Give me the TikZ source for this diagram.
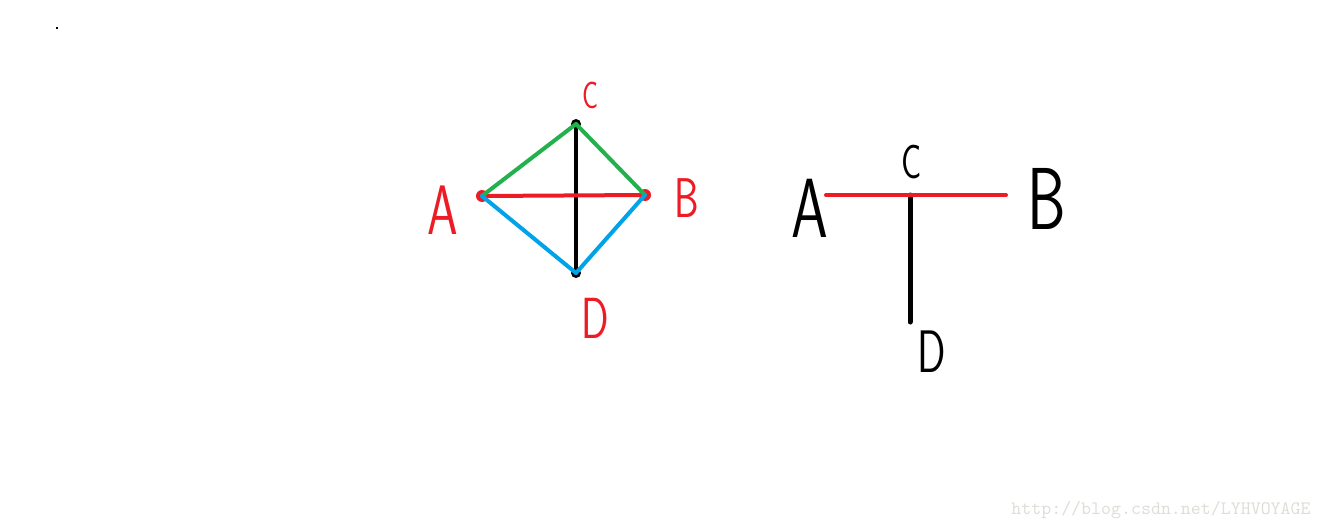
\documentclass[tikz,border=0pt]{standalone}
\usetikzlibrary{positioning}
\definecolor{paintred}{RGB}{237,28,36}
\definecolor{paintgreen}{RGB}{34,177,76}
\definecolor{paintblue}{RGB}{0,162,232}
\definecolor{markgray}{RGB}{222,222,216}

\begin{document}
\begin{tikzpicture}[x=0.5pt,y=-0.5pt,
      vtx/.style={
         circle,
         fill,
         inner sep=0pt,
         minimum size=5pt},
      lbl/.style={
         inner sep=0pt,
         xscale=0.7,
         font=\fontsize{#1}{#1}\selectfont\sffamily},
      myedge/.style={line width=2pt,line cap=round}
      ]
      \useasboundingbox (0,0) rectangle (1322,530);
      \fill (56,27) rectangle (58,29);

      % left figure
      \node[vtx,paintred,minimum size=6pt] (a) at (482,196) {};
      \node[vtx,paintred,minimum size=6pt] (b) at (645,195) {};
      \node[vtx] (c) at (576,124) {};
      \node[vtx] (d) at (576,273) {};

      \node[lbl=35,paintred] (la) at (443,210) {A};
      \node[lbl=28,paintred] (lb) at (687,198) {B};
      \node[lbl=19,paintred] (lc) at (590,95) {C};
      \node[lbl=29,paintred] (ld) at (595,318) {D};

    \foreach \i/\j/\col in {% start/end/colour
      c/d/black,
      a/b/paintred,
      a/c/paintgreen,
      c/b/paintgreen,
      a/d/paintblue,
      d/b/paintblue}
       \draw [myedge,\col] (\i.center) -- (\j.center);

      % right figure
      \coordinate (ra) at (826,195);
      \coordinate (rb) at (1006,195);
      \coordinate (rc) at (910,195);
      \coordinate (rd) at (910,322);

      \node[lbl=42] (lra) at (810,208) {A};
      \node[lbl=44] (lrb) at (1047,199) {B};
      \node[lbl=24] (lrc) at (912,162) {C};
      \node[lbl=30] (lrd) at (932,352) {D};

      \draw [myedge,line width=2.5pt] (rc) -- (rd);
      \draw [myedge,paintred] (ra) -- (rb);

      \node[markgray,inner sep=0pt,font=\fontsize{9.5}{9.5}\selectfont\ttfamily] (mark) at (1161,510) {http://blog.csdn.net/LYHVOYAGE};
    \end{tikzpicture}
\end{document}
